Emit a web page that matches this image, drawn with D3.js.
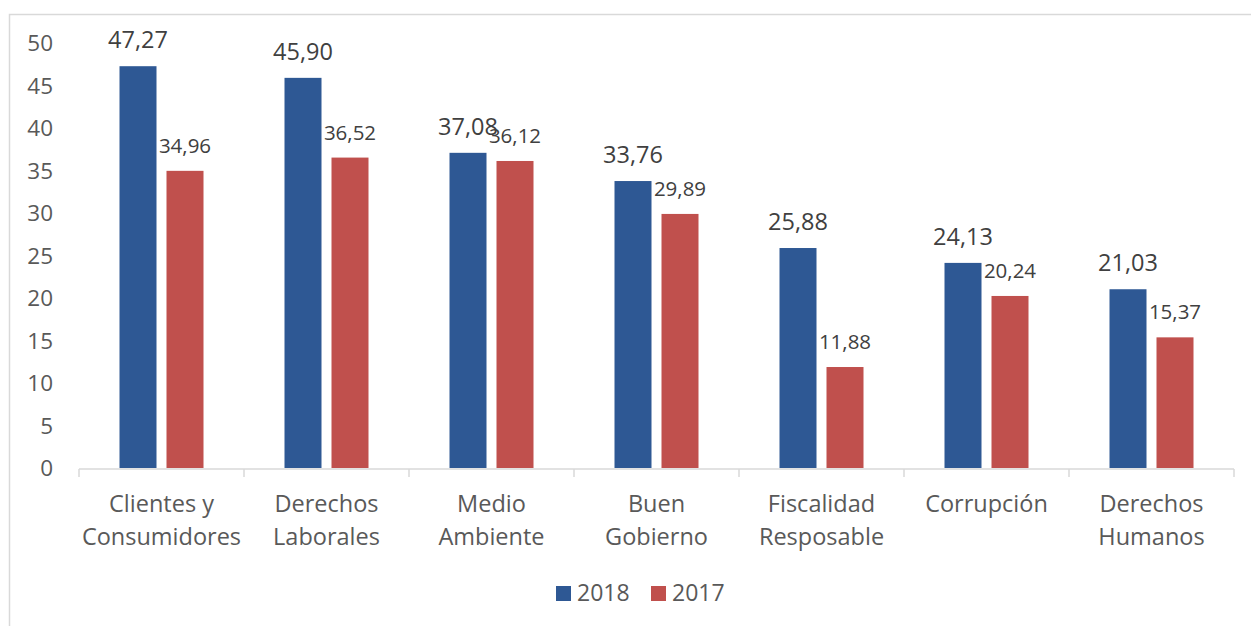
<!DOCTYPE html>
<html>
<head>
<meta charset="utf-8">
<script src="https://cdn.jsdelivr.net/npm/d3@7"></script>
<style>
  body { margin: 0; background: #fff; }
  svg { display: block; font-family: "Open Sans", sans-serif; }
</style>
</head>
<body>
<svg id="chart" width="1251" height="626"></svg>
<script>
// data
var categories = [
  ['Clientes y', 'Consumidores'],
  ['Derechos', 'Laborales'],
  ['Medio', 'Ambiente'],
  ['Buen', 'Gobierno'],
  ['Fiscalidad', 'Resposable'],
  ['Corrupción'],
  ['Derechos', 'Humanos']
];
var values2018 = [47.27, 45.90, 37.08, 33.76, 25.88, 24.13, 21.03];
var values2017 = [34.96, 36.52, 36.12, 29.89, 11.88, 20.24, 15.37];
var seriesNames = ['2018', '2017'];
var yTicks = [0, 5, 10, 15, 20, 25, 30, 35, 40, 45, 50];

// layout
var plotLeft = 79, plotRight = 1234, plotTop = 43, plotBottom = 468;
var barWidth = 37, barGap = 10;
var colors = ['#2E5894', '#C0504D'];

var svg = d3.select('#chart');

// outer frame (bottom and right run off the picture)
svg.append('rect')
  .attr('x', 9.5).attr('y', 14.5)
  .attr('width', 1260).attr('height', 700)
  .attr('fill', 'none')
  .attr('stroke', '#d9d9d9')
  .attr('stroke-width', 1.5);

var x = d3.scaleBand()
  .domain(d3.range(categories.length))
  .range([plotLeft, plotRight]);

var y = d3.scaleLinear()
  .domain([0, 50])
  .range([plotBottom, plotTop]);

var fmt = function(v) { return d3.format('.2f')(v).replace('.', ','); };

// y tick labels
svg.append('g').selectAll('text')
  .data(yTicks)
  .enter().append('text')
  .attr('x', 53)
  .attr('y', function(d) { return y(d); })
  .attr('dy', '0.36em')
  .attr('text-anchor', 'end')
  .attr('font-size', 22.5)
  .attr('fill', '#595959')
  .text(function(d) { return d; });

// bars
var series = [values2018, values2017];
series.forEach(function(vals, s) {
  var offset = s === 0 ? -(barGap / 2 + barWidth) : barGap / 2;
  svg.append('g').selectAll('rect')
    .data(vals)
    .enter().append('rect')
    .attr('x', function(d, i) { return x(i) + x.bandwidth() / 2 + offset; })
    .attr('y', function(d) { return y(d); })
    .attr('width', barWidth)
    .attr('height', function(d) { return y(0) - y(d); })
    .attr('fill', colors[s]);

  svg.append('g').selectAll('text')
    .data(vals)
    .enter().append('text')
    .attr('x', function(d, i) { return x(i) + x.bandwidth() / 2 + offset + barWidth / 2; })
    .attr('y', function(d) { return y(d) - 18; })
    .attr('text-anchor', 'middle')
    .attr('font-size', s === 0 ? 23.5 : 20.5)
    .attr('fill', '#404040')
    .text(function(d) { return fmt(d); });
});

// x axis line and ticks
var axisG = svg.append('g');
axisG.append('line')
  .attr('x1', plotLeft).attr('x2', plotRight)
  .attr('y1', plotBottom + 1).attr('y2', plotBottom + 1)
  .attr('stroke', '#d9d9d9').attr('stroke-width', 1.5);
axisG.selectAll('.tick')
  .data(d3.range(categories.length + 1))
  .enter().append('line')
  .attr('x1', function(i) { return plotLeft + i * x.step(); })
  .attr('x2', function(i) { return plotLeft + i * x.step(); })
  .attr('y1', plotBottom + 1).attr('y2', plotBottom + 9)
  .attr('stroke', '#d9d9d9').attr('stroke-width', 1.5);

// category labels
var catG = svg.append('g').selectAll('text')
  .data(categories)
  .enter().append('text')
  .attr('text-anchor', 'middle')
  .attr('font-size', 23.5)
  .attr('fill', '#595959');
catG.selectAll('tspan')
  .data(function(d, i) { return d.map(function(line) { return { line: line, i: i }; }); })
  .enter().append('tspan')
  .attr('x', function(d) { return x(d.i) + x.bandwidth() / 2; })
  .attr('y', function(d, j) { return 512 + j * 33; })
  .text(function(d) { return d.line; });

// legend
var legendItems = [
  { name: seriesNames[0], color: colors[0], x: 556 },
  { name: seriesNames[1], color: colors[1], x: 651 }
];
var leg = svg.append('g').selectAll('g')
  .data(legendItems)
  .enter().append('g');
leg.append('rect')
  .attr('x', function(d) { return d.x; })
  .attr('y', 586)
  .attr('width', 15).attr('height', 15)
  .attr('fill', function(d) { return d.color; });
leg.append('text')
  .attr('x', function(d) { return d.x + 21; })
  .attr('y', 601)
  .attr('font-size', 23)
  .attr('fill', '#595959')
  .text(function(d) { return d.name; });
</script>
</body>
</html>
